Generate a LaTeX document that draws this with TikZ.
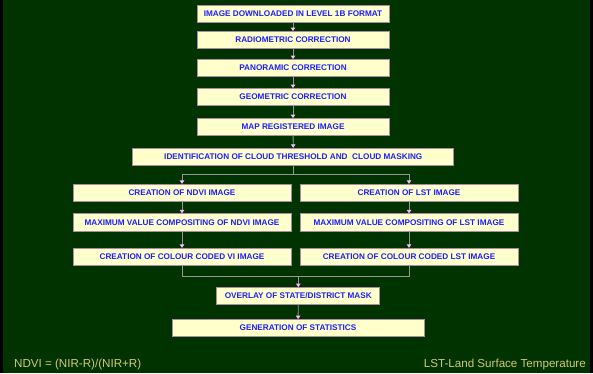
\documentclass[tikz,border=0pt]{standalone}
\usepackage{fontspec}
\setmainfont{Liberation Sans}
\usetikzlibrary{arrows.meta}

\definecolor{bggreen}{RGB}{0,51,0}
\definecolor{boxfill}{RGB}{255,255,204}
\definecolor{boxline}{RGB}{170,140,170}
\definecolor{txtblue}{RGB}{30,30,255}
\definecolor{lnegray}{RGB}{150,150,150}
\definecolor{tippink}{RGB}{255,185,255}
\definecolor{notecol}{RGB}{210,200,110}

\begin{document}
\begin{tikzpicture}[
      x=1pt, y=-1pt,
      stepbox/.style={draw=boxline, line width=0.8pt, fill=boxfill, text=txtblue,
        font=\fontsize{8.2}{10}\selectfont\bfseries,
        inner sep=0pt, minimum height=17pt, minimum width=192pt},
      wide/.style={stepbox, minimum width=321pt},
      col/.style={stepbox, minimum width=218pt, minimum height=17.5pt},
      note/.style={text=notecol, font=\fontsize{11.6}{14}\selectfont\mdseries, inner sep=0pt},
      line/.style={draw=lnegray, line width=0.8pt},
      arrow/.style={line, -{Triangle[length=3.5pt, width=4.5pt, color=tippink, fill=tippink]}}
    ]
    % background
    \fill[black] (0,0) rectangle (593,373);
    \fill[bggreen] (3,0) rectangle (590,373);

    % Pre-processing
    \node[stepbox] (down)  at (293,14)  {IMAGE DOWNLOADED IN LEVEL 1B FORMAT};
    \node[stepbox] (radio) at (293,40)  {RADIOMETRIC CORRECTION};
    \node[stepbox] (pano)  at (293,68)  {PANORAMIC CORRECTION};
    \node[stepbox] (geom)  at (293,97)  {GEOMETRIC CORRECTION};
    \node[stepbox] (mapreg) at (293,127) {MAP REGISTERED IMAGE};
    \node[wide] (cloud) at (293.3,156.7) {IDENTIFICATION OF CLOUD THRESHOLD AND \ CLOUD MASKING};

    \draw[arrow] (down) -- (radio);
    \draw[arrow] (radio) -- (pano);
    \draw[arrow] (pano) -- (geom);
    \draw[arrow] (geom) -- (mapreg);
    \draw[arrow] (mapreg) -- (cloud);

    % NDVI branch
    \node[col] (ndvi)   at (182,193)   {CREATION OF NDVI IMAGE};
    \node[col] (mvcn)   at (182,222.5) {MAXIMUM VALUE COMPOSITING OF NDVI IMAGE};
    \node[col] (ccvi)   at (182,257)   {CREATION OF COLOUR CODED VI IMAGE};

    % LST branch
    \node[col] (lst)    at (409,193)   {CREATION OF LST IMAGE};
    \node[col] (mvcl)   at (409,222.5) {MAXIMUM VALUE COMPOSITING OF LST IMAGE};
    \node[col] (cclst)  at (409,257)   {CREATION OF COLOUR CODED LST IMAGE};

    \draw[line] (cloud.south) -- ++(0,8.7) coordinate (split);
    \draw[arrow] (split) -| (ndvi.north);
    \draw[arrow] (split) -| (lst.north);
    \draw[arrow] (ndvi) -- (mvcn);
    \draw[arrow] (mvcn) -- (ccvi);
    \draw[arrow] (lst) -- (mvcl);
    \draw[arrow] (mvcl) -- (cclst);

    % Output
    \node[stepbox, minimum width=163pt] (overlay) at (298.3,296) {OVERLAY OF STATE/DISTRICT MASK};
    \node[stepbox, minimum width=252pt] (stats)   at (298,328)   {GENERATION OF STATISTICS};

    \coordinate (merge) at (298.3,276.3);
    \draw[line] (ccvi.south) |- (merge) -| (cclst.south);
    \draw[arrow] (merge) -- (overlay.north);
    \draw[arrow] (overlay) -- (stats);

    % Notes
    \node[note, anchor=base west] (ndvinote) at (14,367.5) {NDVI = (NIR-R)/(NIR+R)};
    \node[note, anchor=base east] (lstnote) at (586,367.5) {LST-Land Surface Temperature};
  \end{tikzpicture}
\end{document}
